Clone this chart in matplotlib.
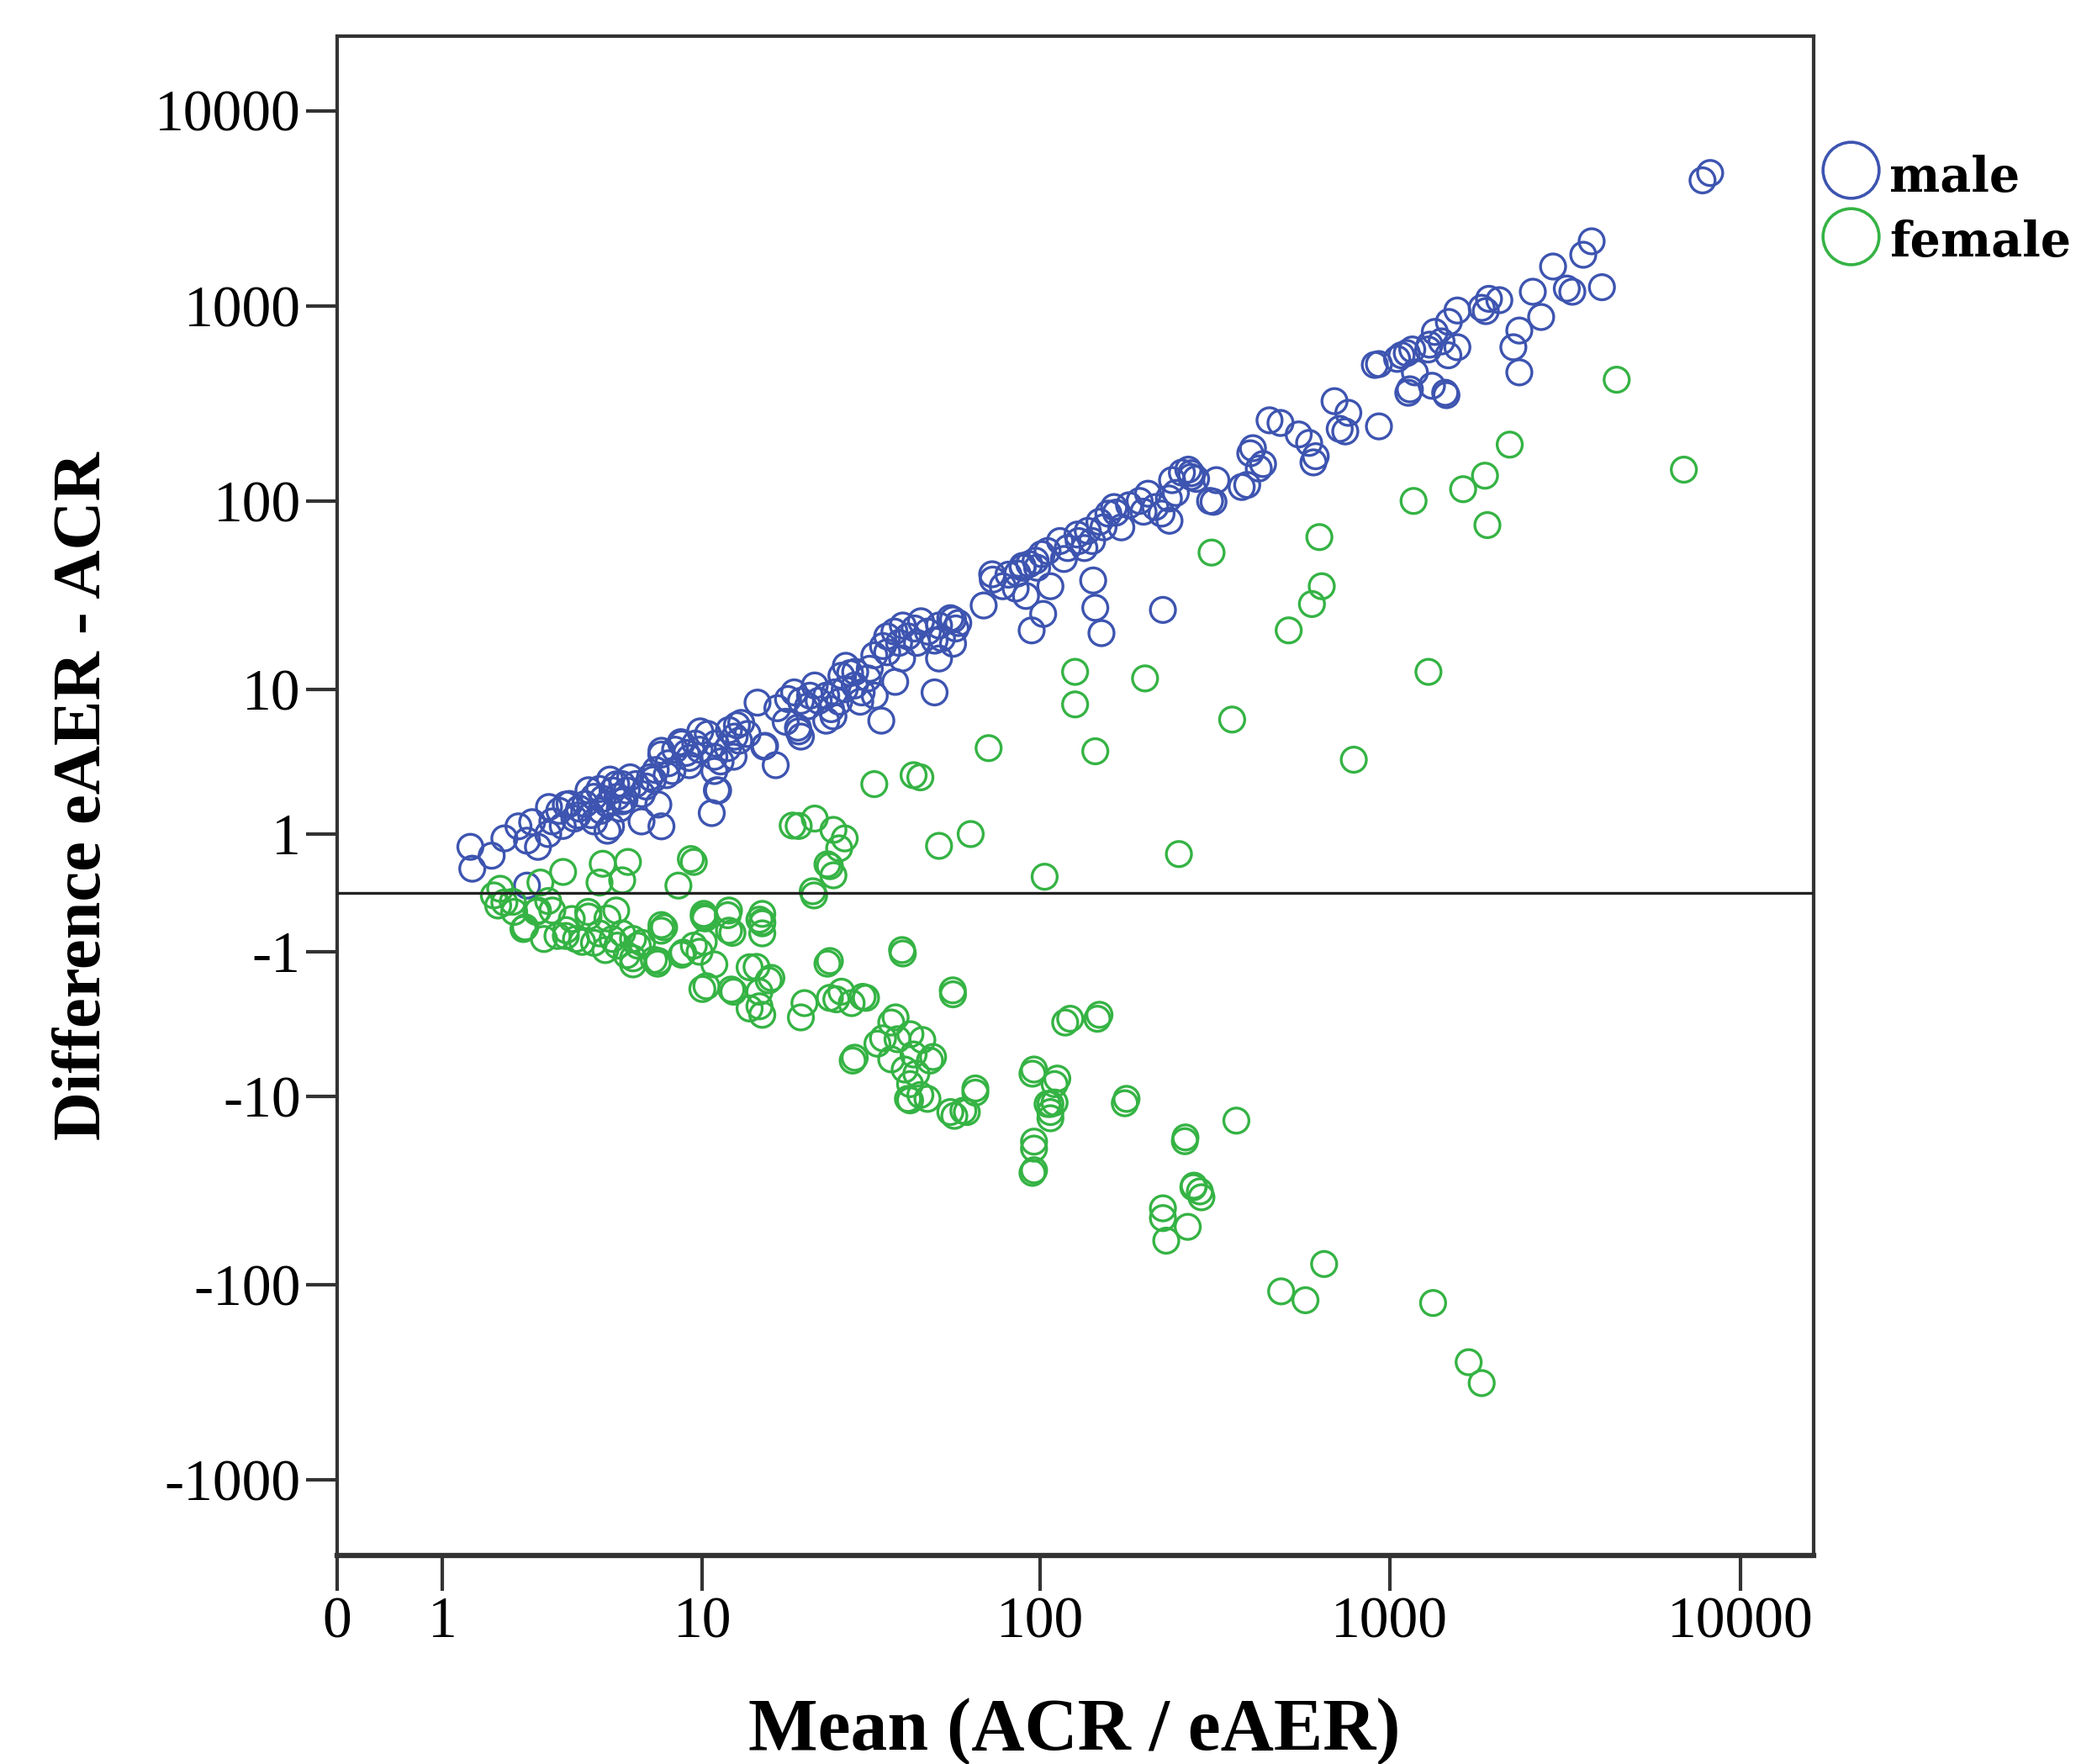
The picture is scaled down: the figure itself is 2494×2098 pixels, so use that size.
import numpy as np
import matplotlib
matplotlib.use("Agg")
import matplotlib.pyplot as plt
from matplotlib.lines import Line2D
from matplotlib.ticker import NullLocator

# Bland-Altman style data: mean (ACR / eAER) vs difference eAER - ACR
male_mean = [1.40, 1.43, 1.76, 2.29, 2.48, 2.74, 2.48, 3.02, 3.11, 3.49, 3.85, 4.21, 4.41, 5.04,
             4.72, 5.25, 5.5, 6.38, 7.41, 7.24, 6.96, 7.41, 8.04, 8.55, 9.1, 9.85, 10.9, 11.1,
             10.7, 12.5, 12.8, 15.6, 16.8, 19.7, 23.8,
             3.3, 3.6, 3.75, 4.1, 4.4, 4.66, 4.9, 5.1, 5.3, 5.5, 5.7, 5.85, 5.4, 4.9, 6.4, 6.8,
             7.1, 7.4, 7.8, 8.2, 8.6, 9.1, 9.5, 10.4, 11.0, 11.4, 12.1, 10.9, 11.2, 12.6, 13.2,
             13.8, 14.8, 15.5, 18.3, 19.1, 20, 19.6, 20, 21.3, 22.6, 23.8, 24.6, 25.2, 26.4,
             27.2, 28, 28.9, 30.3, 31.6, 33.1, 34.6, 33, 35, 36, 37.8, 40, 41.4, 43.3, 45.2,
             47.3, 49.5, 51, 55, 57, 49.5, 56,
             39.8, 51, 21, 25, 30, 38, 22, 27,
             68.7, 72.7, 94.5, 102, 107, 142, 144, 150, 225,
             73, 81, 85, 89, 93, 97, 101, 91, 114, 120, 128, 134, 141, 152, 157, 163, 171, 193,
             204, 214, 223, 239, 255, 266, 235, 307, 320, 378, 400, 435, 234, 271, 165, 129,
             89, 56,
             932, 606, 589, 696, 747, 488, 454, 392, 423, 407, 314, 271, 932, 1142, 1119, 1300,
             1475, 1560, 1452, 1880, 2055, 2343, 2560, 2704, 2253, 2343, 2924, 3318, 3565, 3767,
             907, 1050, 1081, 1160, 1288, 1345, 1406, 1470, 1130, 1180, 1320, 1440, 1560, 1830,
             1920, 3200, 4030, 7800, 8200, 550, 615, 720, 762,
             2.0, 2.6, 3.0, 3.4, 3.9, 4.3, 4.6, 5.0, 5.6, 6.1, 6.6, 7.7, 8.9, 9.8, 12, 13, 17,
             18, 26, 29, 32, 36, 39, 44, 52, 58, 78, 86, 98, 105, 117, 137, 148, 180, 198, 245,
             280]
male_diff = [0.72, 0.33, 0.55, 1.19, 0.85, 0.72, 0.09, 1.75, 1.32, 1.83, 1.49, 2.35, 1.32, 1.19,
             2.03, 2.59, 1.94, 1.32, 1.19, 1.83, 2.8, 4.33, 3.2, 4.9, 3.5, 5.7, 3.97, 2.35,
             1.56, 3.97, 6.2, 4.65, 3.5, 5.7, 6.6,
             1.63, 1.85, 1.4, 1.85, 2.1, 1.63, 1.85, 2.34, 2.1, 2.6, 2.34, 2.9, 1.7, 1.08, 2.2, 2.9,
             3.25, 4.1, 3.6, 4.4, 4.8, 3.9, 4.8, 5.5, 4.8, 3.7, 5.8, 3.2, 2.34, 5.3, 6.4,
             5.5, 8.4, 4.6, 8.8, 9.6, 8.6, 6.0, 5.3, 9.2, 8.6, 9.2, 7.7, 9.6, 11.9,
             13.5, 12.3, 10.5, 9.6, 11.5, 9.2, 6.6, 15.4, 17.3, 19.5, 20.7, 22.3, 19.5, 21.5, 23.5,
             20.7, 18.5, 22.3, 24.4, 21.5, 9.6, 17.8,
             14.8, 14.8, 8, 7, 8.5, 11, 10.5, 10,
             28.5, 41.6, 21, 25.7, 36, 38.6, 27.7, 20.3, 27,
             39, 41.4, 35, 45, 47, 49, 53, 32, 62, 57, 67, 57, 62, 73, 86, 93, 73, 100,
             109, 93, 86, 128, 140, 145, 79, 100, 128, 118, 176, 155, 103, 133, 87, 62,
             46, 24,
             242, 158, 199, 326, 228, 252, 260, 121, 147, 187, 99, 139, 505, 375, 575, 635,
             830, 616, 350, 943, 1073, 750, 1185, 880, 616, 458, 1595, 1185, 1832, 2147,
             500, 537, 560, 600, 600, 738, 660, 560, 360, 458, 391, 360, 950, 980,
             1090, 1230, 1250, 4400, 4800, 220, 170, 235, 284,
             0.9, 1.3, 1.0, 1.2, 1.7, 1.5, 2.4, 2.8, 2.0, 2.6, 2.5, 3.0, 4.2, 4.4, 4.5, 5.0, 7.8,
             6.5, 8.5, 12.5, 13, 16, 18, 18, 19, 23, 36, 42, 45, 55, 50, 70, 78, 95, 88, 110,
             130]

female_mean = [4440, 6900, 2200, 1870, 1620, 1900, 1170, 1290, 630, 640, 600, 515, 310, 355, 790,
               200, 126, 126, 144, 71, 250, 103, 45, 43, 33, 63, 51, 19.7, 22, 25, 27, 26, 24,
               25, 18.9, 21.7, 24.4, 9.2, 8.4, 3.41, 4.72, 5.75, 5.5, 4.6, 1.92, 2.8, 9.4,
               1330, 1680, 1830, 650, 575, 490, 225, 230, 265, 275, 290, 260, 365, 175, 118, 146,
               95, 96, 107, 105, 110, 110, 95, 65, 55, 60, 56, 40, 21.9,
               24.4, 39.8, 20.5, 24.4, 28.3, 31.2, 55.9, 38.1, 35, 28.9, 42.1, 45.6, 49, 37, 43,
               43.8, 41.4, 47.2, 65, 56.5, 61.4, 122, 148, 96, 112, 107, 107, 96, 96, 177, 261,
               276, 287, 225,
               2.44, 2.17, 3.11, 3.49, 4.21, 4.6, 5.25, 5.98, 7.41, 10.1, 12.1, 15.3, 12.1, 2.4,
               3.25, 4.0, 4.82, 5.98, 5.98, 7.24, 8.7, 10.1, 10.9, 10.3, 12.3, 14.7, 16.3, 15.0,
               15.3, 20, 15.3, 15.3, 15.3, 10.1, 7.56, 2.74, 1.88, 3.67, 2.89, 5.5,
               1.8, 2.0, 2.2, 2.7, 3.0, 3.5, 3.8, 4.2, 4.4, 4.9, 5.1, 5.3, 5.7, 6.2, 7.0, 25.5,
               30.5, 26.4, 24, 14, 15, 16, 14, 12.5, 10.0, 9.8, 12, 12.4, 10.2, 15, 8.6, 9.4, 7.4,
               6.4, 7.2, 33.7, 28.5, 48, 45, 42, 42, 40.5, 38.6, 37]
female_diff = [420, 145, 195, 135, 115, 75, 100, 12.5, 65, 36, 29, 21, 54, 6.7, 3.8,
               11.5, 12.5, 8.2, 4.3, 4.5, 0.58, 0.21, 2.9, 3.0, 2.6, 1.0, 0.74, 1.2, 1.4, 1.1, 0.9,
               0.69, 0.40, 0.23, 1.21, 0.02, 0.37, 0.49, 0.09, 0.28, 0.41, 0.44, 0.16, 0.13, 0.05,
               0.13, 0.44,
               -124, -250, -320, -78, -120, -108, -45, -59, -50, -31, -35, -17.6, -13.6, -10.9,
               -3.6, -3.4, -26, -19.3, -12.2, -11, -10.8, -8.5, -7.4, -9.5, -12.2, -12, -2.3,
               -1.04, -0.03,
               -1.23, -0.96, -2.66, -2.44, -2.66, -2.44, -2.15, -3.33, -4.54, -5.96, -4.28, -4.65,
               -5.9, -6.1, -5.7, -7.4, -10.3, -10.3, -9.0, -12.8, -12.2, -3.4, -3.2, -7.0, -7.9,
               -11, -13.2, -17.7, -25.2, -10.3, -16.8, -30.4, -32.6, -40,
               -0.5, -0.11, -0.23, -0.66, -0.32, -0.61, -0.23, -0.72, -0.46, -0.28, -0.23, -0.41,
               -0.56, -0.53, -0.66, -0.78, -0.96, -1.16, -1.32, -1.23, -1.02, -0.78, -1.32, -2.0,
               -2.12, -1.39, -1.72, -2.8, -3.2, -3.33, -0.28, -0.43, -0.61, -0.32, -0.5, -0.23,
               -0.16, -0.36, -0.72, -0.61,
               -0.03, -0.12, -0.25, -0.25, -0.1, -0.55, -0.72, -0.25, -0.8, -0.35, -0.72, -0.86,
               -1.08, -0.86, -1.2, -2.5, -2.4, -2.2, -1.3, -2.9, -2.2, -1.8, -1.4, -2.2, -2.1,
               -1.0, -0.3, -0.6, -0.35, -0.37, -1.07, -0.86, -0.56, -0.8, -1.3, -4.9, -6.2, -6.2,
               -9.8, -8.5, -10.5, -7.0, -4.6, -3.6]

x_ticks = [0, 1, 10, 100, 1000, 10000]
y_ticks = [-1000, -100, -10, -1, 1, 10, 100, 1000, 10000]

blue = "#3d54b0"
green = "#35b344"
axis_col = "#333333"


# signed log10(|v| + 1) scale, as used by the original axes
def fwd(v):
    v = np.asarray(v, dtype=float)
    return np.sign(v) * np.log10(np.abs(v) + 1)


def inv(u):
    u = np.asarray(u, dtype=float)
    return np.sign(u) * (10 ** np.abs(u) - 1)


fig = plt.figure(figsize=(24.94, 20.98), dpi=100)
ax = fig.add_axes([0.1607, 0.1182, 0.8649 - 0.1607, 0.9795 - 0.1182])

ax.set_xscale("function", functions=(fwd, inv))
ax.set_yscale("function", functions=(fwd, inv))

ms = 21.5
ax.scatter(male_mean, male_diff, s=ms ** 2, facecolors="none", edgecolors=blue,
           linewidths=2.4, zorder=2)
ax.scatter(female_mean, female_diff, s=ms ** 2, facecolors="none", edgecolors=green,
           linewidths=2.4, zorder=3)
ax.axhline(0, color="#222222", lw=2.4, zorder=4)

ax.set_xlim(0, 16180)
ax.set_ylim(-2443, 24040)

ax.set_xticks(x_ticks)
ax.set_xticklabels([str(t) for t in x_ticks])
ax.set_yticks(y_ticks)
ax.set_yticklabels([str(t) for t in y_ticks])
ax.xaxis.set_minor_locator(NullLocator())
ax.yaxis.set_minor_locator(NullLocator())

for lab in ax.get_xticklabels() + ax.get_yticklabels():
    lab.set_fontfamily("Liberation Serif")
    lab.set_fontsize(50)

ax.tick_params(axis="x", direction="out", length=30, width=3, color=axis_col, pad=5)
ax.tick_params(axis="y", direction="out", length=27, width=3, color=axis_col, pad=4)

for side in ["left", "right", "top", "bottom"]:
    ax.spines[side].set_color(axis_col)
    ax.spines[side].set_linewidth(3)
ax.spines["bottom"].set_linewidth(4.5)

fig.text(0.5124, 0.0081, "Mean (ACR / eAER)", fontsize=63, fontweight="bold",
         family="Liberation Serif", ha="center", va="baseline")
fig.text(0.040, 0.549, "Difference eAER - ACR", fontsize=58, fontweight="bold",
         family="Liberation Serif", ha="center", va="center", rotation=90)

# legend drawn outside the plot frame, top right
for yy, col in [(0.9037, blue), (0.866, green)]:
    fig.add_artist(Line2D([0.8825], [yy], transform=fig.transFigure, marker="o",
                          markersize=48, markerfacecolor="none", markeredgecolor=col,
                          markeredgewidth=2.6, linestyle="none"))
fig.text(0.901, 0.8913, "male", fontsize=41, fontweight="bold", family="DejaVu Serif",
         va="baseline", ha="left")
fig.text(0.901, 0.8546, "female", fontsize=41, fontweight="bold", family="DejaVu Serif",
         va="baseline", ha="left")

fig.savefig("out.png", dpi=100)
